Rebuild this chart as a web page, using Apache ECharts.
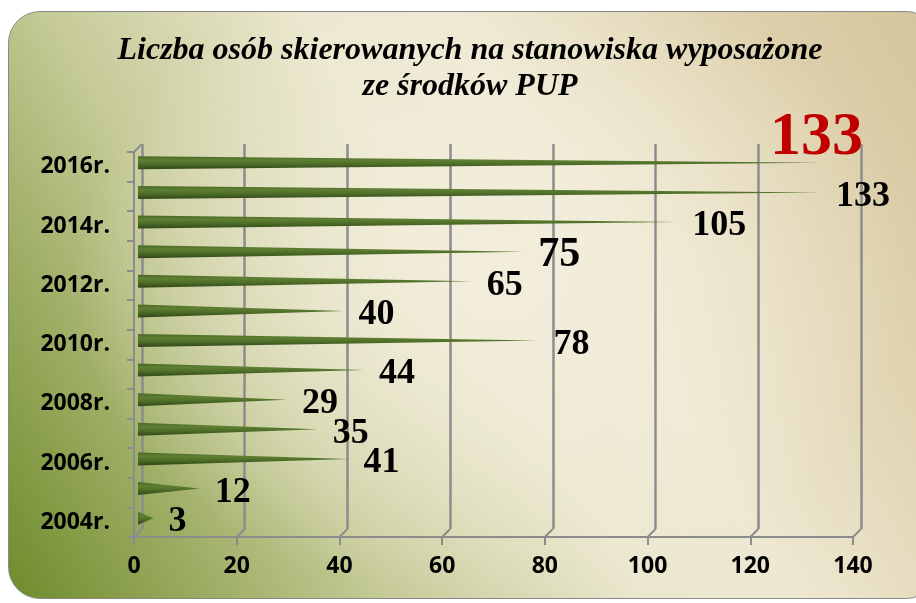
<!DOCTYPE html>
<html>
<head>
<meta charset="utf-8">
<script src="https://cdn.jsdelivr.net/npm/echarts@6/dist/echarts.min.js"></script>
<style>
  html, body { margin: 0; padding: 0; width: 916px; height: 603px; overflow: hidden; background: #ffffff; }
  #bg {
    position: absolute; left: 8px; top: 11px; width: 930px; height: 588px;
    border: 1.5px solid #8a8a8a; border-radius: 32px; box-sizing: border-box;
    background:
      radial-gradient(ellipse 45% 55% at 52% 45%, rgba(243,238,220,0.95) 0%, rgba(243,238,220,0.6) 45%, rgba(243,238,220,0) 100%),
      linear-gradient(60deg, #6f8b2c 0%, #97a95c 14%, #c6cb98 30%, #ebe7cf 50%, #eee8d2 62%, #e0d4b2 80%, #d4c49a 100%);
  }
  #chart { position: absolute; left: 0; top: 0; width: 916px; height: 603px; }
</style>
</head>
<body>
<div id="bg"></div>
<div id="chart"></div>
<script>
// ---- data ----
const categories = ['2004r.', '2005r.', '2006r.', '2007r.', '2008r.', '2009r.', '2010r.',
                    '2011r.', '2012r.', '2013r.', '2014r.', '2015r.', '2016r.'];
const values = [3, 12, 41, 35, 29, 44, 78, 40, 65, 75, 105, 133, 133];
const xTicks = [0, 20, 40, 60, 80, 100, 120, 140];
const titleText = 'Liczba osób skierowanych na stanowiska wyposażone\nze środków PUP';

// ---- chart ----
const chart = echarts.init(document.getElementById('chart'), null, { renderer: 'canvas' });

const gridW = 719, gridH = 385;
const axisGray = '#8c8c8c';
const depth = 8;

const barColor = new echarts.graphic.LinearGradient(0, 0, 0, 1, [
  { offset: 0, color: '#4a6724' },
  { offset: 0.3, color: '#5f7f33' },
  { offset: 0.6, color: '#4e6d27' },
  { offset: 1, color: '#31461a' }
]);

const lastIdx = values.length - 1;
const barData = values.map((v, i) => {
  const item = { value: v };
  if (i === 9) {
    item.label = { fontSize: 42 };
  }
  if (i === lastIdx) {
    item.label = { color: '#c00000', fontSize: 62, offset: [-66, -25] };
  }
  return item;
});

const option = {
  animation: false,
  graphic: [{
    type: 'text',
    silent: true,
    style: {
      x: 470, y: 33,
      text: titleText,
      align: 'center',
      verticalAlign: 'top',
      fontFamily: 'Liberation Serif',
      fontWeight: 'bold',
      fontStyle: 'italic',
      fontSize: 32,
      lineHeight: 36,
      fill: '#000'
    }
  }],
  grid: [
    { left: 134, top: 152, width: gridW, height: gridH },               // front
    { left: 134 + depth / 2, top: 152 - depth / 2, width: gridW, height: gridH }, // bars
    { left: 134 + depth, top: 152 - depth, width: gridW, height: gridH }  // back wall
  ],
  xAxis: [
    {
      gridIndex: 0, type: 'value', min: 0, max: 140, interval: 20,
      axisLine: { show: true, lineStyle: { color: axisGray, width: 2 } },
      axisTick: { show: true, length: 8, lineStyle: { color: axisGray, width: 2 } },
      axisLabel: {
        margin: 18, color: '#000', fontFamily: 'Open Sans', fontWeight: 'bold', fontSize: 23,
        formatter: v => (xTicks.indexOf(v) >= 0 ? String(v) : '')
      },
      splitLine: { show: false }
    },
    {
      gridIndex: 1, type: 'value', min: 0, max: 140, interval: 20, show: false
    },
    {
      gridIndex: 2, type: 'value', min: 0, max: 140, interval: 20,
      axisLine: { show: false }, axisTick: { show: false }, axisLabel: { show: false },
      splitLine: { show: true, lineStyle: { color: axisGray, width: 2.5 } }
    }
  ],
  yAxis: [
    {
      gridIndex: 0, type: 'category', data: categories,
      axisLine: { show: true, lineStyle: { color: axisGray, width: 2 } },
      axisTick: { show: true, length: 7, interval: 0, lineStyle: { color: axisGray, width: 2 } },
      axisLabel: {
        interval: 1, margin: 24, color: '#000',
        fontFamily: 'Open Sans', fontWeight: 'bold', fontSize: 23
      }
    },
    { gridIndex: 1, type: 'category', data: categories, show: false },
    { gridIndex: 2, type: 'category', data: categories, show: false }
  ],
  series: [
    {
      type: 'pictorialBar',
      xAxisIndex: 1, yAxisIndex: 1,
      data: barData,
      symbol: 'path://M0,0 L100,5 L0,10 Z',
      symbolSize: ['100%', 13],
      symbolPosition: 'start',
      itemStyle: { color: barColor },
      label: {
        show: true,
        position: 'right',
        distance: 15,
        offset: [0, 4],
        fontFamily: 'Liberation Serif',
        fontWeight: 'bold',
        fontSize: 36,
        color: '#000'
      },
      z: 5
    },
    {
      // 3D depth connectors of the chart frame, derived from the axis scale
      type: 'custom',
      xAxisIndex: 0, yAxisIndex: 0,
      data: xTicks.map(v => [v]),
      silent: true,
      z: 1,
      renderItem: function (params, api) {
        const cs = params.coordSys;
        const bottom = cs.y + cs.height;
        const px = api.coord([api.value(0), 0])[0];
        const children = [{
          type: 'line',
          shape: { x1: px, y1: bottom, x2: px + depth, y2: bottom - depth },
          style: { stroke: axisGray, lineWidth: 2 }
        }];
        if (params.dataIndex === 0) {
          children.push({
            type: 'line',
            shape: { x1: cs.x, y1: cs.y, x2: cs.x + depth, y2: cs.y - depth },
            style: { stroke: axisGray, lineWidth: 2 }
          });
        }
        return { type: 'group', children: children };
      }
    }
  ]
};

chart.setOption(option);
</script>
</body>
</html>
